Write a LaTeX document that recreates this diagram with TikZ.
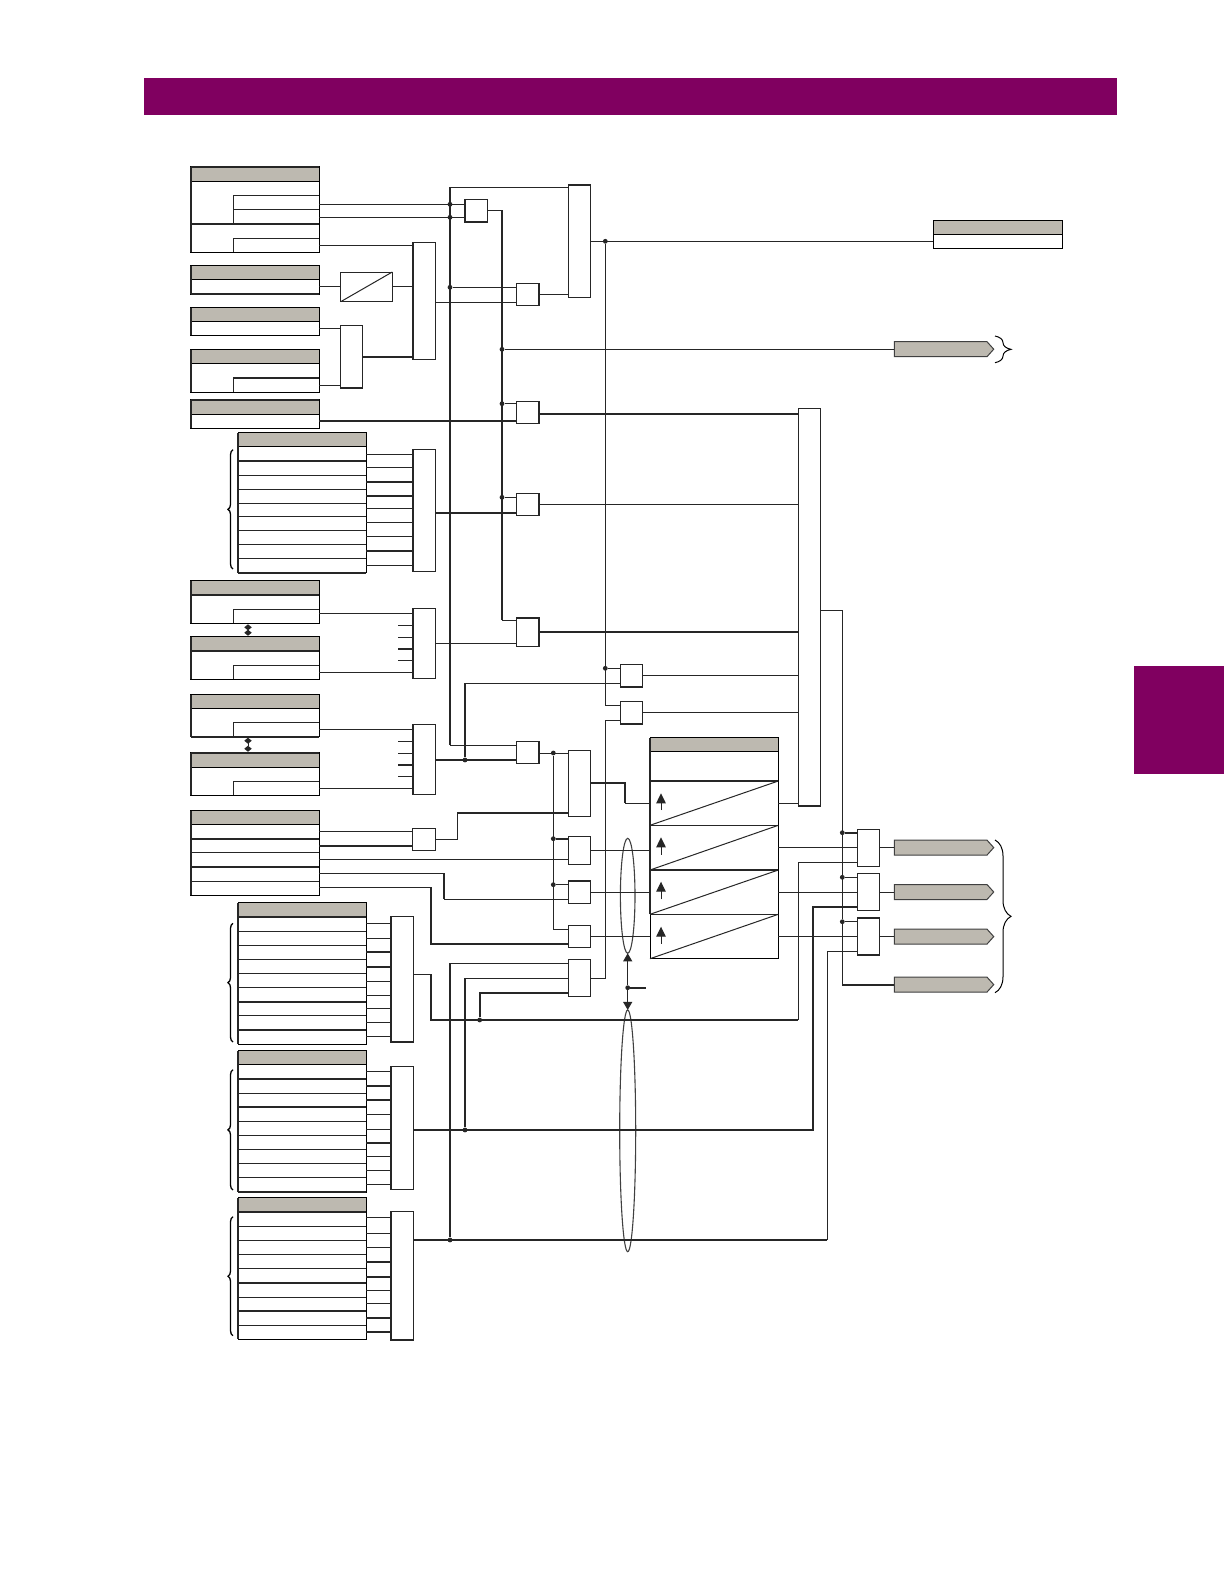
\documentclass[tikz,border=0pt]{standalone}
\usetikzlibrary{shapes.geometric,shapes.symbols,arrows.meta,decorations.pathreplacing}

\definecolor{bandcolor}{HTML}{800060}
\definecolor{headcolor}{HTML}{BDB9B0}

\tikzset{
    wire/.style={line width=1pt, draw=black!85},
    hwire/.style={line width=1.8pt, draw=black!85},
    plainbox/.style={draw=black!85, fill=white, line width=1pt, inner sep=0pt, outer sep=0pt},
    tablebox/.style={plainbox, draw=black},
    headbox/.style={draw=black, fill=headcolor, line width=1pt, inner sep=0pt, outer sep=0pt},
    tagbox/.style={draw=black!75, fill=headcolor, line width=1pt, inner sep=0pt, outer sep=0pt, signal, signal to=east, signal pointer angle=96},
    bandbox/.style={fill=bandcolor, inner sep=0pt, outer sep=0pt},
    lensbox/.style={ellipse, draw=black!75, line width=1.1pt, inner sep=0pt, outer sep=0pt},
    jdot/.style={circle, fill=black!85, inner sep=0pt, minimum size=4.8pt},
    bracewire/.style={line width=1.3pt, decorate, decoration={brace, amplitude=5pt}},
    bigbrace/.style={line width=1pt, decorate, decoration={brace, amplitude=16pt, aspect=0.5}}
}

\newcommand{\blk}[6][plainbox]{%
    \node[#1, minimum width={(#5-#3)*1pt}, minimum height={(#6-#4)*1pt}] (#2) at ({(#3+#5)/2},{(#4+#6)/2}) {};}

\begin{document}
\begin{tikzpicture}[x=1pt,y=-1pt]
    \useasboundingbox (0,0) rectangle (1224,1584);

    \blk[bandbox]{band}{144}{78}{1117}{114.7}
    \blk[bandbox]{sidetab}{1134}{666}{1224}{774}

    \blk[tablebox]{ta}{190.7}{166.7}{319.3}{252}
    \blk[headbox]{tah}{190.7}{166.7}{319.3}{181.7}
    \blk[tablebox]{tb}{190.7}{265.7}{319.3}{294}
    \blk[headbox]{tbh}{190.7}{265.7}{319.3}{279.3}
    \blk[tablebox]{tc}{190.7}{307.7}{319.3}{335.3}
    \blk[headbox]{tch}{190.7}{307.7}{319.3}{321.7}
    \blk[tablebox]{td}{190.7}{349.7}{319.3}{392.3}
    \blk[headbox]{tdh}{190.7}{349.7}{319.3}{363.7}
    \blk[tablebox]{te}{190.7}{399.7}{319.3}{428.3}
    \blk[headbox]{teh}{190.7}{399.7}{319.3}{414.3}
    \blk[tablebox]{tf}{238}{432.7}{366.3}{572.7}
    \blk[headbox]{tfh}{238}{432.7}{366.3}{446.3}
    \blk[tablebox]{tg}{190.7}{580.7}{319.3}{623.3}
    \blk[headbox]{tgh}{190.7}{580.7}{319.3}{594.7}
    \blk[tablebox]{th}{190.7}{636.7}{319.3}{679.3}
    \blk[headbox]{thh}{190.7}{636.7}{319.3}{650.7}
    \blk[tablebox]{ti}{190.7}{694.7}{319.3}{736.7}
    \blk[headbox]{tih}{190.7}{694.7}{319.3}{708.7}
    \blk[tablebox]{tj}{190.7}{752.7}{319.3}{795.3}
    \blk[headbox]{tjh}{190.7}{752.7}{319.3}{767.3}
    \blk[tablebox]{tk}{190.7}{810.7}{319.3}{895.3}
    \blk[headbox]{tkh}{190.7}{810.7}{319.3}{824.7}
    \blk[tablebox]{tl}{238}{902.7}{366.3}{1044.3}
    \blk[headbox]{tlh}{238}{902.7}{366.3}{916.7}
    \blk[tablebox]{tm}{238}{1050.7}{366.3}{1192}
    \blk[headbox]{tmh}{238}{1050.7}{366.3}{1064.3}
    \blk[tablebox]{tn}{238}{1197.7}{366.3}{1339.3}
    \blk[headbox]{tnh}{238}{1197.7}{366.3}{1212}
    \blk[tablebox]{tout}{933.3}{220.3}{1062.7}{248.7}
    \blk[headbox]{touth}{933.3}{220.3}{1062.7}{234.3}

    \draw[hwire] (ta.north west) -- (ta.south west);
    \draw[hwire] (tb.north west) -- (tb.south west);
    \draw[hwire] (tc.north west) -- (tc.south west);
    \draw[hwire] (td.north west) -- (td.south west);
    \draw[hwire] (te.north west) -- (te.south west);
    \draw[hwire] (tf.north west) -- (tf.south west);
    \draw[hwire] (tg.north west) -- (tg.south west);
    \draw[hwire] (th.north west) -- (th.south west);
    \draw[hwire] (ti.north west) -- (ti.south west);
    \draw[hwire] (tj.north west) -- (tj.south west);
    \draw[hwire] (tk.north west) -- (tk.south west);
    \draw[hwire] (tl.north west) -- (tl.south west);
    \draw[hwire] (tm.north west) -- (tm.south west);
    \draw[hwire] (tn.north west) -- (tn.south west);
    \draw[hwire] (ta.north west) -- (ta.north east);
    \draw[hwire] (tb.south west) -- (tb.south east);
    \draw[hwire] (te.north west) -- (te.north east);
    \draw[hwire] (tg.west |- 0,594.7) -- (tg.east |- 0,594.7);
    \draw[hwire] (th.west |- 0,650.7) -- (th.east |- 0,650.7);

    \draw[wire] (233.3,223.7) -- (233.3,195.3) -- (ta.east |- 0,195.3);
    \draw[wire] (233.3,209.3) -- (ta.east |- 0,209.3);
    \draw[hwire] (ta.west |- 0,223.7) -- (ta.east |- 0,223.7);
    \draw[wire] (233.3,252) -- (233.3,238.3) -- (ta.east |- 0,238.3);
    \draw[wire] (233.3,392.3) -- (233.3,377.7);
    \draw[hwire] (233.3,377.7) -- (td.east |- 0,377.7);
    \draw[wire] (233.3,623.3) -- (233.3,609.3) -- (tg.east |- 0,609.3);
    \draw[wire] (233.3,679.3) -- (233.3,665.3) -- (th.east |- 0,665.3);
    \draw[wire] (233.3,736.7) -- (233.3,722.7) -- (ti.east |- 0,722.7);
    \draw[wire] (233.3,795.3) -- (233.3,781.3) -- (tj.east |- 0,781.3);
    \draw[hwire] (ti.south west) -- (ti.south east);
    \draw[hwire] (tj.north west) -- (tj.north east);

    \draw[hwire] (tf.west |- 0,461) -- (tf.east |- 0,461);
    \draw[wire] (tf.west |- 0,475.3) -- (tf.east |- 0,475.3);
    \draw[wire] (tf.west |- 0,489.3) -- (tf.east |- 0,489.3);
    \draw[wire] (tf.west |- 0,503.3) -- (tf.east |- 0,503.3);
    \draw[wire] (tf.west |- 0,516.3) -- (tf.east |- 0,516.3);
    \draw[wire] (tf.west |- 0,530.3) -- (tf.east |- 0,530.3);
    \draw[wire] (tf.west |- 0,544.3) -- (tf.east |- 0,544.3);
    \draw[wire] (tf.west |- 0,558.3) -- (tf.east |- 0,558.3);
    \draw[hwire] (tf.south west) -- (tf.south east);

    \draw[hwire] (tk.west |- 0,838.7) -- (tk.east |- 0,838.7);
    \draw[wire] (tk.west |- 0,852.7) -- (tk.east |- 0,852.7);
    \draw[hwire] (tk.west |- 0,866.7) -- (tk.east |- 0,866.7);
    \draw[wire] (tk.west |- 0,881.3) -- (tk.east |- 0,881.3);

    \draw[hwire] (tl.west |- 0,916.7) -- (tl.east |- 0,916.7);
    \draw[wire] (tl.west |- 0,931.3) -- (tl.east |- 0,931.3);
    \draw[wire] (tl.west |- 0,945.3) -- (tl.east |- 0,945.3);
    \draw[wire] (tl.west |- 0,959.3) -- (tl.east |- 0,959.3);
    \draw[wire] (tl.west |- 0,973.3) -- (tl.east |- 0,973.3);
    \draw[wire] (tl.west |- 0,987.3) -- (tl.east |- 0,987.3);
    \draw[hwire] (tl.west |- 0,1001.7) -- (tl.east |- 0,1001.7);
    \draw[wire] (tl.west |- 0,1015.3) -- (tl.east |- 0,1015.3);
    \draw[hwire] (tl.west |- 0,1030) -- (tl.east |- 0,1030);

    \draw[hwire] (tm.west |- 0,1079) -- (tm.east |- 0,1079);
    \draw[wire] (tm.west |- 0,1093.3) -- (tm.east |- 0,1093.3);
    \draw[hwire] (tm.west |- 0,1107) -- (tm.east |- 0,1107);
    \draw[wire] (tm.west |- 0,1121.3) -- (tm.east |- 0,1121.3);
    \draw[wire] (tm.west |- 0,1135.3) -- (tm.east |- 0,1135.3);
    \draw[wire] (tm.west |- 0,1149.3) -- (tm.east |- 0,1149.3);
    \draw[wire] (tm.west |- 0,1163.3) -- (tm.east |- 0,1163.3);
    \draw[wire] (tm.west |- 0,1177.3) -- (tm.east |- 0,1177.3);
    \draw[hwire] (tm.south west) -- (tm.south east);

    \draw[hwire] (tn.west |- 0,1212) -- (tn.east |- 0,1212);
    \draw[wire] (tn.west |- 0,1226.3) -- (tn.east |- 0,1226.3);
    \draw[wire] (tn.west |- 0,1240.3) -- (tn.east |- 0,1240.3);
    \draw[wire] (tn.west |- 0,1254.3) -- (tn.east |- 0,1254.3);
    \draw[wire] (tn.west |- 0,1268.3) -- (tn.east |- 0,1268.3);
    \draw[hwire] (tn.west |- 0,1283) -- (tn.east |- 0,1283);
    \draw[wire] (tn.west |- 0,1297.3) -- (tn.east |- 0,1297.3);
    \draw[hwire] (tn.west |- 0,1311.3) -- (tn.east |- 0,1311.3);
    \draw[wire] (tn.west |- 0,1325.3) -- (tn.east |- 0,1325.3);

    \draw[bracewire] (233,569) -- (233,449.7);
    \draw[bracewire] (233,1042) -- (233,923.3);
    \draw[bracewire] (233,1190) -- (233,1069.7);
    \draw[bracewire] (233,1335.7) -- (233,1216.7);
    \draw[bigbrace] (995,336) -- (995,362.7);
    \draw[bigbrace] (995,840) -- (995,992.7);

    \draw[{Diamond[width=7.5pt,length=6pt]}-{Diamond[width=7.5pt,length=6pt]}, wire, shorten <=1pt, shorten >=1pt] (tg.south -| 248,0) -- (th.north -| 248,0);
    \draw[{Diamond[width=7.5pt,length=6pt]}-{Diamond[width=7.5pt,length=6pt]}, wire, shorten <=1pt, shorten >=1pt] (ti.south -| 248,0) -- (tj.north -| 248,0);

    \blk{ga}{464.7}{199.7}{487.3}{222}
    \blk{gb}{568.3}{184.7}{590.3}{297.3}
    \blk{gc}{516.7}{283.3}{539.3}{305.3}
    \blk{gd}{412.7}{242.3}{435.3}{359.3}
    \blk{conv}{340.7}{272}{392.3}{301.7}
    \blk{ge}{340.7}{325.3}{362.3}{388.3}
    \blk{gf}{516.7}{401.3}{539.3}{423.3}
    \blk{gg}{516.7}{493.3}{539.3}{515.3}
    \blk{gh}{412.7}{449.3}{435.3}{571.3}
    \blk{gi}{412.7}{608.3}{435.3}{678.3}
    \blk{gj}{516.7}{617.7}{539.3}{646.3}
    \blk{gk}{412.7}{724.3}{435.3}{794.3}
    \blk{gl}{516.7}{741.3}{539.3}{763.3}
    \blk{gm}{568.3}{750.7}{590.3}{816.3}
    \blk{gn}{620.3}{664.3}{642.7}{687}
    \blk{go}{620.3}{701.3}{642.7}{724}
    \blk{gp}{412.7}{828.3}{435.3}{850.3}
    \blk{gq}{568.3}{836.3}{590.3}{864.7}
    \blk{gr}{568.3}{880.7}{590.3}{903.3}
    \blk{gs}{568.3}{925.3}{590.3}{947.3}
    \blk{gt}{568.3}{959.3}{590.3}{996.3}
    \blk{gu}{390.7}{916.7}{413.3}{1042}
    \blk{gv}{390.7}{1066.7}{413.3}{1189.3}
    \blk{gw}{390.7}{1211.7}{413.3}{1340}
    \blk{gbig}{798.3}{408.3}{820.7}{806}
    \blk{gx}{857.3}{829.3}{879.7}{866.3}
    \blk{gy}{857.3}{873.7}{879.7}{910.3}
    \blk{gz}{857.3}{917.7}{879.7}{955}

    \draw[wire] (conv.south west) -- (conv.north east);

    \draw[hwire] (ga.south west) -- (ga.south east);
    \draw[hwire] (ga.north west) -- (ga.south west);
    \draw[hwire] (gb.north west) -- (gb.north east);
    \draw[hwire] (gc.north east) -- (gc.south east);
    \draw[hwire] (gd.north west) -- (gd.south west);
    \draw[hwire] (ge.south west) -- (ge.south east);
    \draw[hwire] (gf.north east) -- (gf.south east);
    \draw[hwire] (gg.north east) -- (gg.south east);
    \draw[hwire] (gh.north west) -- (gh.south west);
    \draw[hwire] (gi.north west) -- (gi.south west);
    \draw[hwire] (gj.north east) -- (gj.south east);
    \draw[hwire] (gj.north west) -- (gj.north east);
    \draw[hwire] (gk.north west) -- (gk.south west);
    \draw[hwire] (gl.north east) -- (gl.south east);
    \draw[hwire] (gn.south west) -- (gn.south east);
    \draw[hwire] (go.south west) -- (go.south east);
    \draw[hwire] (gr.north west) -- (gr.north east);
    \draw[hwire] (gu.south west) -- (gu.south east);
    \draw[hwire] (gu.north west) -- (gu.south west);
    \draw[hwire] (gv.north west) -- (gv.south west);
    \draw[hwire] (gw.north west) -- (gw.south west);
    \draw[hwire] (gw.south west) -- (gw.south east);
    \draw[hwire] (gbig.south west) -- (gbig.south east);
    \draw[hwire] (gz.north west) -- (gz.north east);
    \draw[hwire] (gz.south west) -- (gz.south east);

    \blk[tablebox]{tset}{650}{737.7}{778.3}{958.7}
    \blk[headbox]{tseth}{650}{737.7}{778.3}{751.7}
    \draw[hwire] (tset.north west) -- (tset.west |- 0,914.3);
    \draw[hwire] (tset.west |- 0,781) -- (tset.east |- 0,781);
    \draw[wire] (tset.west |- 0,825.3) -- (tset.east |- 0,825.3);
    \draw[hwire] (tset.west |- 0,870) -- (tset.east |- 0,870);
    \draw[wire] (tset.west |- 0,914.3) -- (tset.east |- 0,914.3);
    \draw[wire] (tset.west |- 0,825.3) -- (tset.east |- 0,781);
    \draw[wire] (tset.west |- 0,870) -- (tset.east |- 0,825.3);
    \draw[wire] (tset.west |- 0,914.3) -- (tset.east |- 0,870);
    \draw[wire] (tset.south west) -- (tset.east |- 0,914.3);
    \draw[-{Triangle[width=9.5pt,length=10pt]}, wire] (661,810) -- (661,793.3);
    \draw[-{Triangle[width=9.5pt,length=10pt]}, wire] (661,854.7) -- (661,837.3);
    \draw[-{Triangle[width=9.5pt,length=10pt]}, wire] (661,899.3) -- (661,881.7);
    \draw[-{Triangle[width=9.5pt,length=10pt]}, wire] (661,943.7) -- (661,926.7);

    \node[lensbox, minimum width=14.6pt, minimum height=115pt] (lensa) at (627.7,895.8) {};
    \node[lensbox, minimum width=16pt, minimum height=241.7pt] (lensb) at (627.7,1130.8) {};

    \node[tagbox, minimum width=99.3pt, minimum height=15pt] (taga) at (940.7,349.2) {};
    \node[tagbox, minimum width=99.3pt, minimum height=15pt] (tagb) at (940.7,847.6) {};
    \node[tagbox, minimum width=99.3pt, minimum height=15pt] (tagc) at (940.7,892) {};
    \node[tagbox, minimum width=99.3pt, minimum height=15pt] (tagd) at (940.7,936.6) {};
    \node[tagbox, minimum width=99.3pt, minimum height=15pt] (tage) at (940.7,984.6) {};

    \node[jdot] (ja) at (450,204.3) {};
    \node[jdot] (jb) at (450,217.3) {};
    \node[jdot] (jc) at (450,287.3) {};
    \node[jdot] (jd) at (502,349.3) {};
    \node[jdot] (je) at (502,403.7) {};
    \node[jdot] (jf) at (502,497.3) {};
    \node[jdot] (jg) at (605.3,241.3) {};
    \node[jdot] (jh) at (605.3,668.3) {};
    \node[jdot] (ji) at (465,760) {};
    \node[jdot] (jj) at (553.3,753) {};
    \node[jdot] (jk) at (553.3,838.7) {};
    \node[jdot] (jl) at (553.3,884.7) {};
    \node[jdot] (jm) at (479.7,1020) {};
    \node[jdot] (jn) at (465,1130) {};
    \node[jdot] (jo) at (450,1240) {};
    \node[jdot] (jp) at (842.3,832.7) {};
    \node[jdot] (jq) at (842.3,877.3) {};
    \node[jdot] (jr) at (842.3,921.7) {};
    \node[jdot] (js) at (627.7,987.7) {};

    \coordinate (busat) at (450,187.3);
    \coordinate (busab) at (450,745);
    \coordinate (busbt) at (502,210.3);
    \coordinate (busbb) at (502,620.3);
    \coordinate (busct) at (465,683.3);
    \coordinate (busdt) at (450,963.3);
    \coordinate (buset) at (465,978.3);
    \coordinate (stubend) at (645.7,987.7);

    \draw[wire] (ta.east |- ja) -- (ga.west |- ja);
    \draw[wire] (ta.east |- jb) -- (ga.west |- jb);
    \draw[wire] (ta.east |- 0,245.3) -- (gd.west |- 0,245.3);
    \draw[wire] (tb.east |- 0,286.3) -- (conv.west |- 0,286.3);
    \draw[wire] (conv.east |- 0,286.3) -- (gd.west |- 0,286.3);
    \draw[wire] (tc.east |- 0,328.3) -- (ge.west |- 0,328.3);
    \draw[wire] (td.east |- 0,385.3) -- (ge.west |- 0,385.3);
    \draw[hwire] (ge.east |- 0,356.7) -- (gd.west |- 0,356.7);
    \draw[hwire] (te.east |- 0,421) -- (gf.west |- 0,421);

    \draw[wire] (tf.east |- 0,454.3) -- (gh.west |- 0,454.3);
    \draw[wire] (tf.east |- 0,467.3) -- (gh.west |- 0,467.3);
    \draw[hwire] (tf.east |- 0,482) -- (gh.west |- 0,482);
    \draw[hwire] (tf.east |- 0,496) -- (gh.west |- 0,496);
    \draw[wire] (tf.east |- 0,508.3) -- (gh.west |- 0,508.3);
    \draw[wire] (tf.east |- 0,522.3) -- (gh.west |- 0,522.3);
    \draw[wire] (tf.east |- 0,536.3) -- (gh.west |- 0,536.3);
    \draw[hwire] (tf.east |- 0,550.7) -- (gh.west |- 0,550.7);
    \draw[wire] (tf.east |- 0,565.3) -- (gh.west |- 0,565.3);

    \draw[wire] (tg.east |- 0,613.3) -- (gi.west |- 0,613.3);
    \draw[wire] (th.east |- 0,672.3) -- (gi.west |- 0,672.3);
    \draw[wire] (398.3,625.3) -- (gi.west |- 0,625.3);
    \draw[wire] (398.3,637.3) -- (gi.west |- 0,637.3);
    \draw[hwire] (398.3,649) -- (gi.west |- 0,649);
    \draw[wire] (398.3,660.3) -- (gi.west |- 0,660.3);

    \draw[wire] (ti.east |- 0,729.3) -- (gk.west |- 0,729.3);
    \draw[wire] (tj.east |- 0,788.3) -- (gk.west |- 0,788.3);
    \draw[wire] (398.3,741.3) -- (gk.west |- 0,741.3);
    \draw[wire] (398.3,753.3) -- (gk.west |- 0,753.3);
    \draw[hwire] (398.3,764.7) -- (gk.west |- 0,764.7);
    \draw[wire] (398.3,776.3) -- (gk.west |- 0,776.3);

    \draw[wire] (tk.east |- 0,831.3) -- (gp.west |- 0,831.3);
    \draw[hwire] (tk.east |- 0,846) -- (gp.west |- 0,846);
    \draw[wire] (tk.east |- 0,859.3) -- (gq.west |- 0,859.3);
    \draw[wire] (tk.east |- 0,873.3) -- (444,873.3);
    \draw[hwire] (444,873.3) -- (444,899.3);
    \draw[wire] (444,899.3) -- (gr.west |- 0,899.3);
    \draw[wire] (tk.east |- 0,887.3) -- (430.7,887.3);
    \draw[hwire] (430.7,887.3) -- (430.7,944) -- (gs.west |- 0,944);

    \draw[wire] (tl.east |- 0,923.3) -- (gu.west |- 0,923.3);
    \draw[wire] (tl.east |- 0,938.3) -- (gu.west |- 0,938.3);
    \draw[hwire] (tl.east |- 0,951.7) -- (gu.west |- 0,951.7);
    \draw[hwire] (tl.east |- 0,967) -- (gu.west |- 0,967);
    \draw[wire] (tl.east |- 0,981.7) -- (gu.west |- 0,981.7);
    \draw[wire] (tl.east |- 0,995.7) -- (gu.west |- 0,995.7);
    \draw[wire] (tl.east |- 0,1008.7) -- (gu.west |- 0,1008.7);
    \draw[wire] (tl.east |- 0,1022.7) -- (gu.west |- 0,1022.7);
    \draw[wire] (tl.east |- 0,1036.7) -- (gu.west |- 0,1036.7);

    \draw[wire] (tm.east |- 0,1071.3) -- (gv.west |- 0,1071.3);
    \draw[hwire] (tm.east |- 0,1086) -- (gv.west |- 0,1086);
    \draw[hwire] (tm.east |- 0,1100) -- (gv.west |- 0,1100);
    \draw[wire] (tm.east |- 0,1114.7) -- (gv.west |- 0,1114.7);
    \draw[wire] (tm.east |- 0,1129.3) -- (gv.west |- 0,1129.3);
    \draw[hwire] (tm.east |- 0,1143) -- (gv.west |- 0,1143);
    \draw[wire] (tm.east |- 0,1156.7) -- (gv.west |- 0,1156.7);
    \draw[wire] (tm.east |- 0,1170.7) -- (gv.west |- 0,1170.7);
    \draw[wire] (tm.east |- 0,1184.3) -- (gv.west |- 0,1184.3);

    \draw[wire] (tn.east |- 0,1217.3) -- (gw.west |- 0,1217.3);
    \draw[wire] (tn.east |- 0,1233.3) -- (gw.west |- 0,1233.3);
    \draw[wire] (tn.east |- 0,1247.3) -- (gw.west |- 0,1247.3);
    \draw[hwire] (tn.east |- 0,1261.7) -- (gw.west |- 0,1261.7);
    \draw[hwire] (tn.east |- 0,1276.7) -- (gw.west |- 0,1276.7);
    \draw[wire] (tn.east |- 0,1290.3) -- (gw.west |- 0,1290.3);
    \draw[wire] (tn.east |- 0,1303.7) -- (gw.west |- 0,1303.7);
    \draw[hwire] (tn.east |- 0,1317.7) -- (gw.west |- 0,1317.7);
    \draw[hwire] (tn.east |- 0,1332) -- (gw.west |- 0,1332);

    \draw[wire] (gb.west |- busat) -- (busat);
    \draw[hwire] (busat) -- (busab);
    \draw[wire] (busab) -- (gl.west |- busab);
    \draw[wire] (ga.east |- busbt) -- (busbt);
    \draw[hwire] (busbt) -- (busbb);
    \draw[wire] (busbb) -- (gj.west |- busbb);
    \draw[wire] (jc) -- (gc.west |- jc);
    \draw[wire] (gd.east |- 0,302.3) -- (gc.west |- 0,302.3);
    \draw[wire] (gc.east |- 0,294.3) -- (gb.west |- 0,294.3);
    \draw[wire] (gb.east |- jg) -- (tout.west |- jg);
    \draw[wire] (jg) -- (605.3,705) -- (go.west |- 0,705);
    \draw[wire] (jh) -- (gn.west |- jh);
    \draw[wire] (jd) -- (taga.west |- jd);
    \draw[wire] (je) -- (gf.west |- je);
    \draw[wire] (jf) -- (gg.west |- jf);
    \draw[hwire] (gh.east |- 0,512.7) -- (gg.west |- 0,512.7);
    \draw[hwire] (gf.east |- 0,414) -- (gbig.west |- 0,414);
    \draw[wire] (gg.east |- 0,504.3) -- (gbig.west |- 0,504.3);
    \draw[hwire] (gj.east |- 0,632) -- (gbig.west |- 0,632);
    \draw[wire] (gi.east |- 0,643.3) -- (gj.west |- 0,643.3);
    \draw[wire] (gn.east |- 0,675.3) -- (gbig.west |- 0,675.3);
    \draw[wire] (go.east |- 0,712.3) -- (gbig.west |- 0,712.3);
    \draw[wire] (gn.west |- busct) -- (busct);
    \draw[hwire] (busct) -- (ji);
    \draw[hwire] (gk.east |- ji) -- (gl.west |- ji);
    \draw[wire] (gl.east |- jj) -- (gm.west |- jj);
    \draw[wire] (jj) -- (553.3,929.3) -- (gs.west |- 0,929.3);
    \draw[hwire] (jk) -- (gq.west |- jk);
    \draw[wire] (jl) -- (gr.west |- jl);
    \draw[wire] (gp.east |- 0,839.3) -| (457.3,813);
    \draw[hwire] (457.3,813) -- (gm.west |- 0,813);
    \draw[hwire] (gm.east |- 0,782.7) -- (625,782.7) -- (625,803);
    \draw[wire] (625,803) -- (tset.west |- 0,803);
    \draw[wire] (gq.east |- 0,850.3) -- (tset.west |- 0,850.3);
    \draw[wire] (gr.east |- 0,892.3) -- (tset.west |- 0,892.3);
    \draw[wire] (gs.east |- 0,936.3) -- (tset.west |- 0,936.3);
    \draw[wire] (tset.east |- 0,803.3) -- (gbig.west |- 0,803.3);

    \draw[wire] (gt.west |- busdt) -- (busdt);
    \draw[hwire] (busdt) -- (jo);
    \draw[wire] (gt.west |- buset) -- (buset);
    \draw[hwire] (buset) -- (jn);
    \draw[hwire] (gt.west |- 0,993) -- (479.7,993) -- (jm);
    \draw[wire] (gt.east |- buset) -| (605.3,720.3) -- (go.west |- 0,720.3);

    \draw[wire] (gu.east |- 0,974.3) -- (430.7,974.3);
    \draw[hwire] (430.7,974.3) -- (430.7,1020) -- (798.3,1020);
    \draw[wire] (798.3,1020) -- (798.3,862.7) -- (gx.west |- 0,862.7);
    \draw[hwire] (gv.east |- jn) -- (813.3,1130) -- (813.3,907) -- (gy.west |- 0,907);
    \draw[hwire] (gw.east |- jo) -- (827.3,1240);
    \draw[wire] (827.3,1240) -- (827.3,951.3) -- (gz.west |- 0,951.3);

    \draw[wire] (gbig.east |- 0,610.3) -- (842.3,610.3) -- (jr);
    \draw[wire] (jr) -- (842.3,985);
    \draw[hwire] (842.3,985) -- (tage.west |- 0,985);
    \draw[hwire] (jp) -- (gx.west |- jp);
    \draw[wire] (jq) -- (gy.west |- jq);
    \draw[wire] (jr) -- (gz.west |- jr);
    \draw[wire] (tset.east |- 0,847.3) -- (gx.west |- 0,847.3);
    \draw[wire] (tset.east |- 0,892.3) -- (gy.west |- 0,892.3);
    \draw[wire] (tset.east |- 0,936.7) -- (gz.west |- 0,936.7);
    \draw[wire] (gx.east |- 0,847.3) -- (tagb.west |- 0,847.3);
    \draw[wire] (gy.east |- 0,892.3) -- (tagc.west |- 0,892.3);
    \draw[wire] (gz.east |- 0,936.7) -- (tagd.west |- 0,936.7);

    \draw[-{Triangle[width=9pt,length=8pt]}, wire] (js) -- (lensa.south);
    \draw[-{Triangle[width=9pt,length=8pt]}, wire] (js) -- (lensb.north);
    \draw[hwire] (js) -- (stubend);
\end{tikzpicture}
\end{document}
